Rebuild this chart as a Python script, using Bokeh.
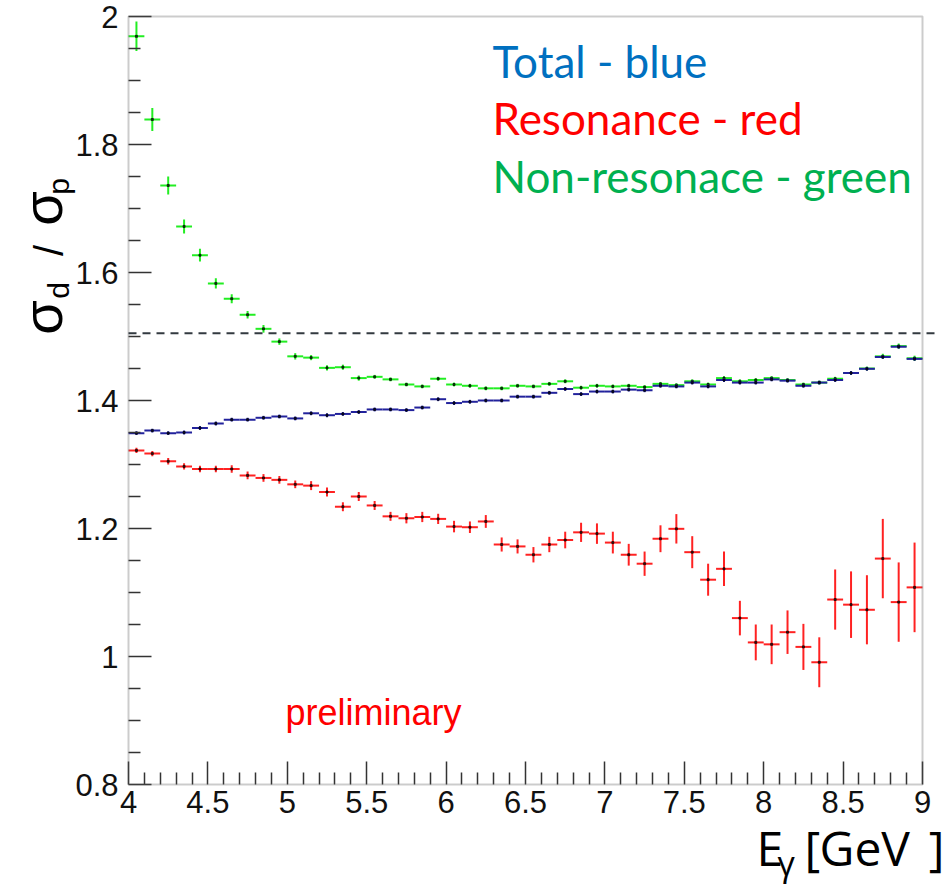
import math
from bokeh.plotting import figure
from bokeh.models import (Range1d, FixedTicker, NumeralTickFormatter, Label, Arrow,
                          ColumnDataSource, LinearAxis, BoxAnnotation)
from bokeh.embed import file_html
from bokeh.resources import INLINE

# ---------------- data ----------------
energy = [4.05, 4.15, 4.25, 4.35, 4.45, 4.55, 4.65, 4.75, 4.85, 4.95,
          5.05, 5.15, 5.25, 5.35, 5.45, 5.55, 5.65, 5.75, 5.85, 5.95,
          6.05, 6.15, 6.25, 6.35, 6.45, 6.55, 6.65, 6.75, 6.85, 6.95,
          7.05, 7.15, 7.25, 7.35, 7.45, 7.55, 7.65, 7.75, 7.85, 7.95,
          8.05, 8.15, 8.25, 8.35, 8.45, 8.55, 8.65, 8.75, 8.85, 8.95]
bin_half_width = 0.05

nonres = [1.969, 1.839, 1.736, 1.672, 1.627, 1.583, 1.559, 1.534, 1.512, 1.492,
          1.469, 1.467, 1.451, 1.452, 1.435, 1.437, 1.433, 1.425, 1.422, 1.434,
          1.425, 1.423, 1.419, 1.419, 1.423, 1.422, 1.426, 1.430, 1.420, 1.423,
          1.422, 1.423, 1.421, 1.426, 1.424, 1.430, 1.425, 1.435, 1.430, 1.432,
          1.435, 1.432, 1.425, 1.428, 1.434, 1.443, 1.450, 1.469, 1.485, 1.466]
nonres_err = [0.023, 0.018, 0.014, 0.011, 0.010, 0.008, 0.007, 0.006, 0.006, 0.005,
              0.005, 0.004, 0.004, 0.004, 0.004, 0.003, 0.003, 0.003, 0.003, 0.003,
              0.003, 0.003, 0.003, 0.003, 0.003, 0.003, 0.003, 0.003, 0.003, 0.003,
              0.003, 0.003, 0.003, 0.003, 0.003, 0.003, 0.003, 0.003, 0.003, 0.003,
              0.003, 0.003, 0.003, 0.003, 0.003, 0.003, 0.003, 0.004, 0.004, 0.004]

total = [1.349, 1.353, 1.349, 1.350, 1.357, 1.364, 1.370, 1.370, 1.373, 1.375,
         1.372, 1.380, 1.377, 1.379, 1.382, 1.386, 1.386, 1.385, 1.389, 1.402,
         1.396, 1.398, 1.400, 1.400, 1.406, 1.406, 1.412, 1.418, 1.410, 1.414,
         1.414, 1.417, 1.416, 1.423, 1.422, 1.428, 1.422, 1.432, 1.428, 1.428,
         1.433, 1.431, 1.423, 1.428, 1.432, 1.443, 1.4495, 1.468, 1.484, 1.465]
total_err = [0.003] * 50

reson = [1.322, 1.317, 1.305, 1.297, 1.293, 1.293, 1.293, 1.283, 1.279, 1.276,
         1.269, 1.267, 1.257, 1.234, 1.250, 1.236, 1.219, 1.216, 1.218, 1.215,
         1.203, 1.202, 1.211, 1.175, 1.172, 1.159, 1.175, 1.182, 1.194, 1.192,
         1.178, 1.159, 1.145, 1.184, 1.1995, 1.163, 1.120, 1.137, 1.060, 1.022,
         1.019, 1.038, 1.015, 0.991, 1.089, 1.081, 1.073, 1.153, 1.085, 1.108]
reson_err = [0.004, 0.004, 0.005, 0.005, 0.005, 0.005, 0.006, 0.006, 0.006, 0.006,
             0.006, 0.007, 0.007, 0.007, 0.007, 0.007, 0.007, 0.008, 0.008, 0.008,
             0.009, 0.009, 0.010, 0.011, 0.011, 0.012, 0.012, 0.013, 0.015, 0.016,
             0.017, 0.017, 0.019, 0.021, 0.023, 0.025, 0.025, 0.027, 0.027, 0.028,
             0.031, 0.034, 0.036, 0.039, 0.047, 0.052, 0.054, 0.062, 0.062, 0.070]

dashed_level = 1.505

x_major = [4, 4.5, 5, 5.5, 6, 6.5, 7, 7.5, 8, 8.5, 9]
x_minor = [4.1, 4.2, 4.3, 4.4, 4.6, 4.7, 4.8, 4.9, 5.1, 5.2, 5.3, 5.4, 5.6, 5.7, 5.8, 5.9,
           6.1, 6.2, 6.3, 6.4, 6.6, 6.7, 6.8, 6.9, 7.1, 7.2, 7.3, 7.4, 7.6, 7.7, 7.8, 7.9,
           8.1, 8.2, 8.3, 8.4, 8.6, 8.7, 8.8, 8.9]
y_major = [0.8, 1.0, 1.2, 1.4, 1.6, 1.8, 2.0]
y_minor = [0.85, 0.9, 0.95, 1.05, 1.1, 1.15, 1.25, 1.3, 1.35, 1.45, 1.5, 1.55,
           1.65, 1.7, 1.75, 1.85, 1.9, 1.95]

legend_texts = ["Total - blue", "Resonance - red", "Non-resonace - green"]
legend_colors = ["#0070C0", "#FF0000", "#00B050"]

# ---------------- layout ----------------
W, H = 946, 888
FL, FR, FT, FB = 128, 922, 16, 784          # pixel box of the data area
X0, X1, Y0, Y1 = 4.0, 9.0, 0.8, 2.0


def px2x(px):
    return X0 + (px - FL) / (FR - FL) * (X1 - X0)


def py2y(py):
    return Y1 - (py - FT) / (FB - FT) * (Y1 - Y0)


p = figure(width=W, height=H, output_backend="svg", toolbar_location=None,
           x_range=Range1d(px2x(0), px2x(W)), y_range=Range1d(py2y(H), py2y(0)),
           x_axis_location=None, y_axis_location=None, min_border=0)
p.outline_line_color = None
p.background_fill_color = "white"
p.border_fill_color = "white"
p.xgrid.visible = False
p.ygrid.visible = False

xaxis = LinearAxis(fixed_location=Y0, bounds=(X0, X1))
yaxis = LinearAxis(fixed_location=X0, bounds=(Y0, Y1))
for ax in (xaxis, yaxis):
    ax.axis_line_color = None
    ax.major_tick_in = 23
    ax.major_tick_out = 0
    ax.minor_tick_in = 12
    ax.minor_tick_out = 0
    ax.major_tick_line_color = "#333333"
    ax.minor_tick_line_color = "#333333"
    ax.major_tick_line_width = 1.5
    ax.minor_tick_line_width = 1.5
    ax.major_label_text_font = "Liberation Sans"
    ax.major_label_text_font_size = "31px"
    ax.major_label_text_color = "#111111"
    ax.formatter = NumeralTickFormatter(format="0.[0]")
xaxis.ticker = FixedTicker(ticks=x_major, minor_ticks=x_minor)
yaxis.ticker = FixedTicker(ticks=y_major, minor_ticks=y_minor)
xaxis.major_label_standoff = 6
yaxis.major_label_standoff = 10
p.add_layout(xaxis, "below")
p.add_layout(yaxis, "left")

# frame box
p.add_layout(BoxAnnotation(left=X0, right=X1, bottom=Y0, top=Y1, fill_color=None,
                           line_color="#555555", line_width=2))


def draw_series(vals, errs, color, width=2.0):
    src = ColumnDataSource(dict(
        x=energy, y=vals,
        xl=[e - bin_half_width for e in energy], xr=[e + bin_half_width for e in energy],
        yl=[v - d for v, d in zip(vals, errs)], yh=[v + d for v, d in zip(vals, errs)]))
    p.segment(x0="xl", y0="y", x1="xr", y1="y", source=src, line_color=color, line_width=width)
    p.segment(x0="x", y0="yl", x1="x", y1="yh", source=src, line_color=color, line_width=width)
    p.scatter(x="x", y="y", source=src, marker="square", size=2, color="#000000", alpha=0.7)


draw_series(nonres, nonres_err, "#22ee22")
draw_series(total, total_err, "#22229c")
draw_series(reson, reson_err, "#ff2222")

p.add_layout(Arrow(end=None, start=None, x_start=X0, y_start=dashed_level,
                   x_end=px2x(934), y_end=dashed_level,
                   line_color="#333a40", line_width=2, line_dash="8 6"))


def text(px, py, txt, font, size, color="#000000", align="left", angle=0.0):
    p.add_layout(Label(x=px2x(px), y=py2y(py), text=txt, text_color=color,
                       text_font=font, text_font_size=f"{size}px", angle=angle,
                       text_baseline="alphabetic", text_align=align))


# legend-like texts (positions already compensate Bokeh's baseline offset)
for txt, col, base in zip(legend_texts, legend_colors, [60, 117, 175]):
    text(492, base, txt, "Lato", 44, col)

text(285, 712, "preliminary", "Liberation Sans", 36, "#FF0000")

# y-axis title: sigma_d / sigma_p (rotated)
ypieces = [("σ", 317, 42, 56), ("d", 290, 58, 30), ("/", 250, 48, 40),
           ("σ", 208, 42, 56), ("p", 186, 58, 30)]
for txt, cy, bx, fs in ypieces:
    text(bx, cy, txt, "Liberation Sans", fs, align="center", angle=math.pi / 2)

# x-axis title: E_gamma [GeV]
text(756, 847, "E", "Open Sans", 48)
text(777, 862, "γ", "Open Sans", 34)
text(804, 847, "[", "Open Sans", 48)
text(819, 847, "GeV", "Open Sans", 48)
text(944, 847, "]", "Open Sans", 48, align="right")

open("out.html", "w").write(file_html(p, INLINE))
